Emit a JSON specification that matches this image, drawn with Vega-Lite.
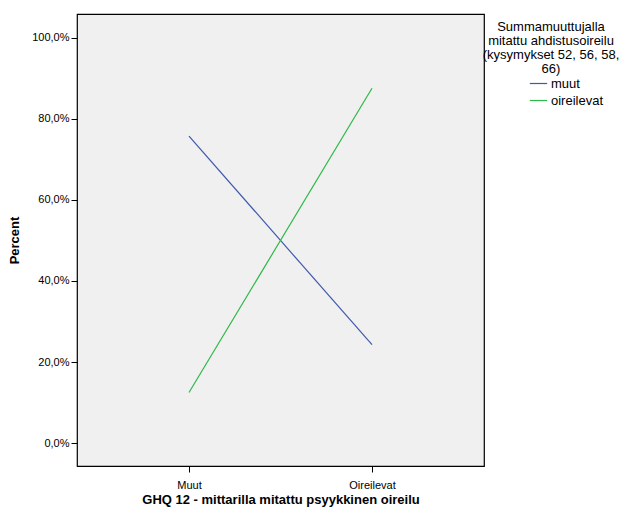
{
  "$schema": "https://vega.github.io/schema/vega-lite/v6.json",
  "autosize": "none",
  "width": 407,
  "height": 452,
  "padding": {"left": 77, "top": 14, "right": 151, "bottom": 48},
  "background": "white",
  "data": {"values": [
    {"ghq": "Muut", "group": "muut", "percent": 75.7},
    {"ghq": "Oireilevat", "group": "muut", "percent": 24.3},
    {"ghq": "Muut", "group": "oireilevat", "percent": 12.5},
    {"ghq": "Oireilevat", "group": "oireilevat", "percent": 87.5}
  ]},
  "mark": {"type": "line", "strokeWidth": 1.2},
  "encoding": {
    "x": {
      "field": "ghq", "type": "nominal", "sort": ["Muut", "Oireilevat"],
      "scale": {"type": "point", "padding": 0.612},
      "axis": {
        "title": "GHQ 12 - mittarilla mitattu psyykkinen oireilu",
        "labelAngle": 0, "domain": false, "tickColor": "#000", "tickSize": 6,
        "labelFont": "Liberation Sans", "labelFontSize": 11, "labelColor": "#000", "labelPadding": 7,
        "titleFont": "Liberation Sans", "titleFontSize": 13, "titleFontWeight": "bold", "titleColor": "#000", "titlePadding": 3
      }
    },
    "y": {
      "field": "percent", "type": "quantitative",
      "scale": {"domain": [-5.6, 105.8], "nice": false, "zero": false},
      "axis": {
        "title": "Percent", "values": [0, 20, 40, 60, 80, 100], "grid": false, "domain": false,
        "labelExpr": "replace(format(datum.value, '.1f'), '.', ',') + '%'",
        "tickColor": "#000", "tickSize": 6,
        "labelFont": "Liberation Sans", "labelFontSize": 11, "labelColor": "#000", "labelPadding": 2,
        "titleFont": "Liberation Sans", "titleFontSize": 13, "titleFontWeight": "bold", "titleColor": "#000", "titlePadding": 10
      }
    },
    "color": {
      "field": "group", "type": "nominal",
      "scale": {"domain": ["muut", "oireilevat"], "range": ["#3E58AC", "#2EB848"]},
      "legend": {
        "title": ["Summamuuttujalla", "mitattu ahdistusoireilu", "(kysymykset 52, 56, 58,", "66)"],
        "orient": "none", "legendX": 406, "legendY": 7, "padding": 0,
        "titleAlign": "center", "titleAnchor": "middle", "titleFont": "Liberation Sans", "titleFontSize": 13,
        "titleFontWeight": "normal", "titleColor": "#000", "titleLineHeight": 14, "titlePadding": -2,
        "symbolType": "stroke", "symbolSize": 300, "symbolStrokeWidth": 1.2, "symbolOffset": 30,
        "labelFont": "Liberation Sans", "labelFontSize": 13, "labelColor": "#000", "labelOffset": 3,
        "rowPadding": 0
      }
    }
  },
  "config": {
    "view": {"fill": "#F0F0F0", "stroke": "#000", "strokeWidth": 1.2}
  }
}
